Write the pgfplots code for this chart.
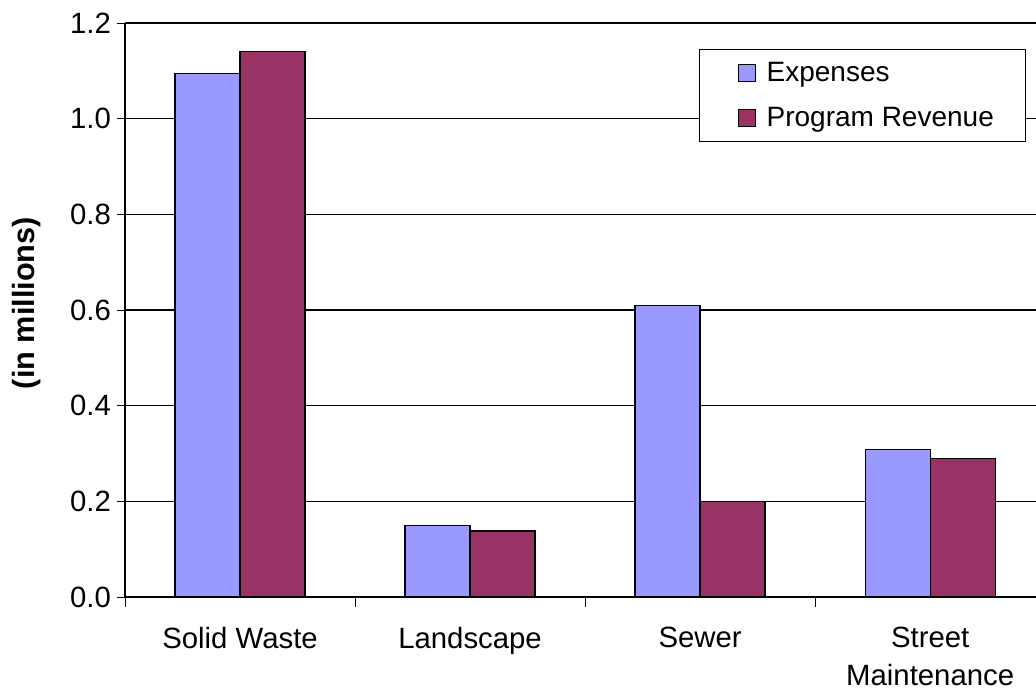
\documentclass[border=0pt]{standalone}
\usepackage{pgfplots}
\pgfplotsset{compat=1.18}
\usepackage{fontspec}
\setmainfont{Liberation Sans}
\definecolor{expc}{HTML}{9999FF}
\definecolor{revc}{HTML}{993366}
\pgfplotstableread{
x exp rev
0 1.095 1.14
1 0.150 0.138
2 0.610 0.200
3 0.309 0.289
}\data
\begin{document}
\begin{tikzpicture}
\path[use as bounding box] (-93.75pt,-70.5pt) rectangle (683.25pt,447.75pt);
\begin{axis}[
  at={(0pt,0pt)}, anchor=south west,
  width=683.25pt, height=430.5pt, scale only axis,
  xmin=-0.5, xmax=3.46, ymin=0, ymax=1.2,
  axis x line=bottom, axis y line=left,
  axis line style={-, black, line width=0.8pt},
  ybar=0pt, bar width=48.75pt,
  xtick={0,1,2,3},
  xticklabels={Solid Waste, Landscape, Sewer, {Street\\Maintenance}},
  minor xtick={-0.5,0.5,1.5,2.5},
  major x tick style={draw=none},
  minor tick length=7.5pt,
  major tick length=6pt,
  tick align=outside,
  tick style={black, line width=0.6pt},
  ytick={0,0.2,...,1.2},
  ymajorgrids, grid style={black, line width=0.8pt},
  ticklabel style={font=\fontsize{22}{28.5}\selectfont},
  yticklabel style={xshift=-1pt, /pgf/number format/.cd, fixed, fixed zerofill, precision=1, assume math mode=true},
  xticklabel style={align=center, yshift=-13pt},
  ylabel={\bfseries (in millions)},
  ylabel style={font=\fontsize{23}{27}\selectfont\bfseries, at={(axis description cs:-0.1076,0.512)}, anchor=center},
  legend style={at={(0.630,0.9547)}, anchor=north west, draw=black, line width=0.6pt,
    font=\fontsize{21}{25}\selectfont, inner xsep=22pt, inner ysep=7.5pt,
    legend cell align=left, row sep=14pt},
  legend image code/.code={\path[draw=none, fill=none] (-7.5pt,0pt) -- (19pt,0pt);\draw[#1, line width=0.8pt] (0pt,-6.4pt) rectangle (12.75pt,6.35pt);},
  clip=false,
]
\addplot[fill=expc, draw=black, line width=1pt] table[x=x, y=exp] {\data};
\addplot[fill=revc, draw=black, line width=1pt] table[x=x, y=rev] {\data};
\legend{Expenses, Program Revenue}
\end{axis}
\end{tikzpicture}
\end{document}
